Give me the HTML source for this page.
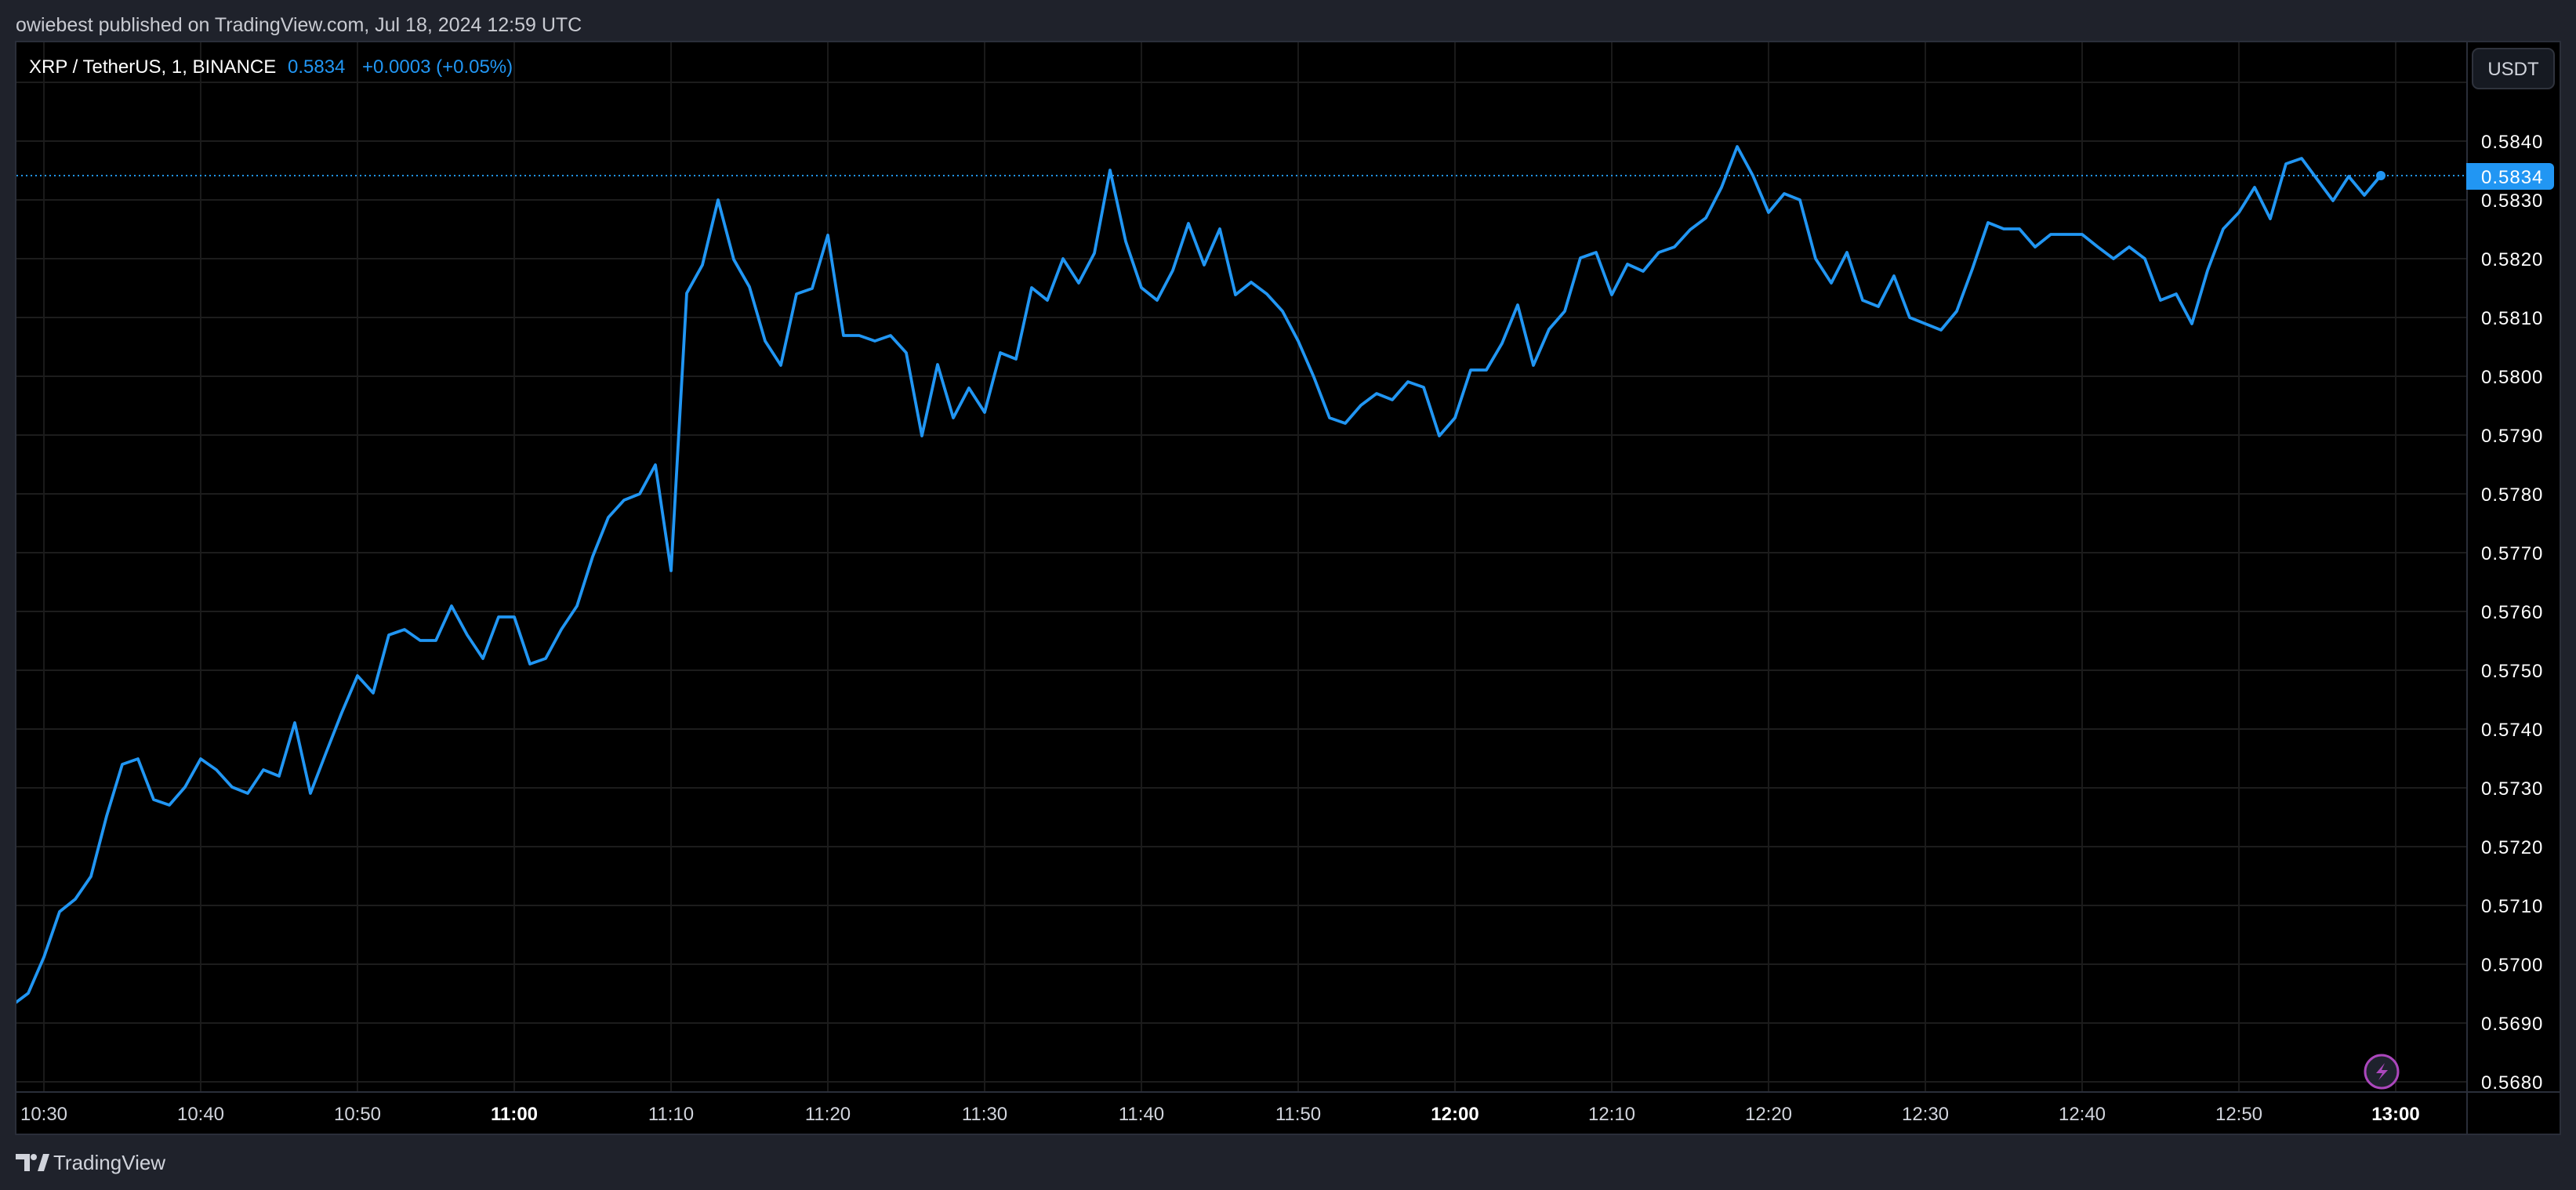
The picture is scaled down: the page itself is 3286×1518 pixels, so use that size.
<!DOCTYPE html>
<html><head><meta charset="utf-8"><style>
html,body{margin:0;padding:0;background:#1f222b;width:3286px;height:1518px;overflow:hidden;font-family:"Liberation Sans",sans-serif;}
</style></head><body>
<svg width="3286" height="1518" viewBox="0 0 3286 1518" xmlns="http://www.w3.org/2000/svg" style="position:absolute;left:0;top:0">
<defs><clipPath id="c"><rect x="21" y="54" width="3125" height="1338"/></clipPath></defs>
<rect width="3286" height="1518" fill="#1f222b"/>
<text x="20" y="40" font-size="25" fill="#c8cad1" font-family="Liberation Sans, sans-serif">owiebest published on TradingView.com, Jul 18, 2024 12:59 UTC</text>
<rect x="20" y="53" width="3246" height="1394" fill="#000" stroke="#2a2e39" stroke-width="2"/>
<g stroke="#1a1a1a" stroke-width="2">
<line x1="56" y1="54" x2="56" y2="1392"/><line x1="256" y1="54" x2="256" y2="1392"/><line x1="456" y1="54" x2="456" y2="1392"/><line x1="656" y1="54" x2="656" y2="1392"/><line x1="856" y1="54" x2="856" y2="1392"/><line x1="1056" y1="54" x2="1056" y2="1392"/><line x1="1256" y1="54" x2="1256" y2="1392"/><line x1="1456" y1="54" x2="1456" y2="1392"/><line x1="1656" y1="54" x2="1656" y2="1392"/><line x1="1856" y1="54" x2="1856" y2="1392"/><line x1="2056" y1="54" x2="2056" y2="1392"/><line x1="2256" y1="54" x2="2256" y2="1392"/><line x1="2456" y1="54" x2="2456" y2="1392"/><line x1="2656" y1="54" x2="2656" y2="1392"/><line x1="2856" y1="54" x2="2856" y2="1392"/><line x1="3056" y1="54" x2="3056" y2="1392"/>
</g>
<g stroke="#1c1c1c" stroke-width="2">
<line x1="21" y1="105" x2="3146" y2="105"/><line x1="21" y1="180" x2="3146" y2="180"/><line x1="21" y1="255" x2="3146" y2="255"/><line x1="21" y1="330" x2="3146" y2="330"/><line x1="21" y1="405" x2="3146" y2="405"/><line x1="21" y1="480" x2="3146" y2="480"/><line x1="21" y1="555" x2="3146" y2="555"/><line x1="21" y1="630" x2="3146" y2="630"/><line x1="21" y1="705" x2="3146" y2="705"/><line x1="21" y1="780" x2="3146" y2="780"/><line x1="21" y1="855" x2="3146" y2="855"/><line x1="21" y1="930" x2="3146" y2="930"/><line x1="21" y1="1005" x2="3146" y2="1005"/><line x1="21" y1="1080" x2="3146" y2="1080"/><line x1="21" y1="1155" x2="3146" y2="1155"/><line x1="21" y1="1230" x2="3146" y2="1230"/><line x1="21" y1="1305" x2="3146" y2="1305"/><line x1="21" y1="1380" x2="3146" y2="1380"/>
</g>
<line x1="3147" y1="54" x2="3147" y2="1446" stroke="#2a2e39" stroke-width="2"/>
<line x1="21" y1="1393" x2="3265" y2="1393" stroke="#2a2e39" stroke-width="2"/>
<line x1="21" y1="224" x2="3146" y2="224" stroke="#2196f3" stroke-width="2" stroke-dasharray="2,4"/>
<polyline clip-path="url(#c)" fill="none" stroke="#2196f3" stroke-width="3.8" stroke-linejoin="round" points="14,1283 20,1279 36,1267 56,1221 76,1163 96,1147 116,1118 136,1041 156,975 176,968 196,1020 216,1027 236,1004 256,968 276,982 296,1004 316,1012 336,982 356,990 376,922 396,1012 416,960 436,909 456,862 476,884 496,810 516,803 536,817 556,817 576,773 596,810 616,840 636,787 656,787 676,847 696,840 716,803 736,773 756,710 776,660 796,638 816,630 836,593 856,728 876,374 896,338 916,255 936,331 956,366 976,435 996,466 1016,375 1036,368 1056,300 1076,428 1096,428 1116,435 1136,428 1156,450 1176,556 1196,465 1216,533 1236,495 1256,526 1276,450 1296,458 1316,367 1336,383 1356,330 1376,361 1396,323 1416,217 1436,308 1456,367 1476,383 1496,345 1516,285 1536,338 1556,292 1576,376 1596,360 1616,375 1636,397 1656,435 1676,481 1696,533 1716,540 1736,517 1756,502 1776,510 1796,487 1816,494 1836,556 1856,533 1876,472 1896,472 1916,438 1936,389 1956,466 1976,420 1996,397 2016,329 2036,322 2056,376 2076,337 2096,346 2116,322 2136,315 2156,293 2176,278 2196,239 2216,187 2236,224 2256,271 2276,247 2296,255 2316,330 2336,361 2356,322 2376,383 2396,391 2416,352 2436,405 2456,413 2476,421 2496,397 2516,343 2536,284 2556,292 2576,292 2596,315 2616,299 2636,299 2656,299 2676,315 2696,330 2716,315 2736,330 2756,383 2776,375 2796,413 2816,345 2836,292 2856,271 2876,239 2896,279 2916,209 2936,202 2956,229 2976,256 2996,225 3016,249 3036,225"/>
<circle cx="3037" cy="224" r="6" fill="#2196f3"/>
<g font-size="24" fill="#d1d4dc" font-family="Liberation Sans, sans-serif">
<text x="37" y="93" fill="#fff">XRP / TetherUS, 1, BINANCE</text>
<text x="367" y="93" fill="#2196f3">0.5834</text>
<text x="462" y="93" fill="#2196f3">+0.0003 (+0.05%)</text>
</g>
<rect x="3154" y="62" width="104" height="51" rx="8" fill="#161a22" stroke="#2f333d" stroke-width="2"/>
<text x="3206" y="96" font-size="24" fill="#d1d4dc" text-anchor="middle" font-family="Liberation Sans, sans-serif">USDT</text>
<g font-size="24" fill="#fff" font-family="Liberation Sans, sans-serif" letter-spacing="1">
<text x="3165" y="189">0.5840</text><text x="3165" y="264">0.5830</text><text x="3165" y="339">0.5820</text><text x="3165" y="414">0.5810</text><text x="3165" y="489">0.5800</text><text x="3165" y="564">0.5790</text><text x="3165" y="639">0.5780</text><text x="3165" y="714">0.5770</text><text x="3165" y="789">0.5760</text><text x="3165" y="864">0.5750</text><text x="3165" y="939">0.5740</text><text x="3165" y="1014">0.5730</text><text x="3165" y="1089">0.5720</text><text x="3165" y="1164">0.5710</text><text x="3165" y="1239">0.5700</text><text x="3165" y="1314">0.5690</text><text x="3165" y="1389">0.5680</text>
</g>
<path d="M3146 208 H3252 a6 6 0 0 1 6 6 V236 a6 6 0 0 1 -6 6 H3146 Z" fill="#2196f3"/>
<text x="3165" y="234" font-size="24" fill="#fff" letter-spacing="1" font-family="Liberation Sans, sans-serif">0.5834</text>
<g font-size="24" fill="#d1d4dc" text-anchor="middle" font-family="Liberation Sans, sans-serif">
<text x="56" y="1429">10:30</text><text x="256" y="1429">10:40</text><text x="456" y="1429">10:50</text><text x="656" y="1429" font-weight="bold" fill="#fff">11:00</text><text x="856" y="1429">11:10</text><text x="1056" y="1429">11:20</text><text x="1256" y="1429">11:30</text><text x="1456" y="1429">11:40</text><text x="1656" y="1429">11:50</text><text x="1856" y="1429" font-weight="bold" fill="#fff">12:00</text><text x="2056" y="1429">12:10</text><text x="2256" y="1429">12:20</text><text x="2456" y="1429">12:30</text><text x="2656" y="1429">12:40</text><text x="2856" y="1429">12:50</text><text x="3056" y="1429" font-weight="bold" fill="#fff">13:00</text>
</g>
<circle cx="3038" cy="1367" r="21" fill="#1e222d" stroke="#ab47bc" stroke-width="3"/>
<path d="M3042 1356 L3031 1369 L3039 1369 L3034 1378 L3046 1365 L3038 1365 Z" fill="#ab47bc"/>
<g fill="#d1d4dc">
<path d="M20 1472 H38 V1494 H31 V1479 H20 Z"/>
<circle cx="43" cy="1476" r="4"/>
<path d="M48 1494 L55 1472 H63 L56 1494 Z"/>
</g>
<text x="68" y="1492" font-size="26" fill="#d1d4dc" font-family="Liberation Sans, sans-serif">TradingView</text>
</svg>
</body></html>
